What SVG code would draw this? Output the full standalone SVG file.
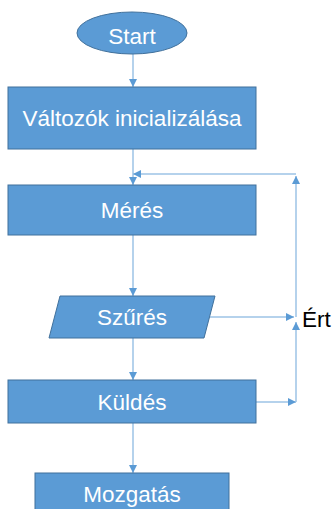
<svg xmlns="http://www.w3.org/2000/svg" width="333" height="509" viewBox="0 0 333 509">
  <defs>
    <style>
      .shape { fill: #5B9BD5; stroke: #41719C; stroke-width: 1; }
      .label { font-family: "Liberation Sans", Arial, sans-serif; font-size: 22.5px; fill: #FFFFFF; text-anchor: middle; }
      .side { font-family: "Liberation Sans", Arial, sans-serif; font-size: 22.5px; fill: #000000; }
      .conn { fill: none; stroke: #9DC3E6; stroke-width: 1.5; }
    </style>
    <marker id="arrow" viewBox="0 0 8 8" refX="8" refY="4" markerWidth="8" markerHeight="8" markerUnits="userSpaceOnUse" orient="auto">
      <path d="M0,0 L8,4 L0,8 Z" fill="#5B9BD5"/>
    </marker>
  </defs>
  <rect width="333" height="509" fill="#FFFFFF"/>
  <g id="connectors">
    <path class="conn" d="M133,54 V87" marker-end="url(#arrow)"/>
    <path class="conn" d="M133,149 V185" marker-end="url(#arrow)"/>
    <path class="conn" d="M133,235 V296" marker-end="url(#arrow)"/>
    <path class="conn" d="M133,338 V380" marker-end="url(#arrow)"/>
    <path class="conn" d="M133,423 V473" marker-end="url(#arrow)"/>
    <path class="conn" d="M210,317 H294" marker-end="url(#arrow)"/>
    <path class="conn" d="M256,402 H296" marker-end="url(#arrow)"/>
    <path class="conn" d="M296,402 V322" marker-end="url(#arrow)"/>
    <path class="conn" d="M296,317 V176" marker-end="url(#arrow)"/>
    <path class="conn" d="M296,174 H133" marker-end="url(#arrow)"/>
  </g>
  <g id="start">
    <ellipse class="shape" cx="132" cy="33" rx="55" ry="21"/>
    <text class="label" x="132" y="44">Start</text>
  </g>
  <g id="init">
    <rect class="shape" x="8" y="87" width="248" height="62"/>
    <text class="label" x="132" y="126">Változók inicializálása</text>
  </g>
  <g id="meres">
    <rect class="shape" x="8" y="185" width="248" height="50"/>
    <text class="label" x="132" y="218">Mérés</text>
  </g>
  <g id="szures">
    <polygon class="shape" points="60,296 215,296 204,338 49,338"/>
    <text class="label" x="132" y="325">Szűrés</text>
  </g>
  <g id="ert">
    <text class="side" x="302" y="327">Ért</text>
  </g>
  <g id="kuldes">
    <rect class="shape" x="8" y="380" width="248" height="43"/>
    <text class="label" x="132" y="410">Küldés</text>
  </g>
  <g id="mozgatas">
    <rect class="shape" x="35" y="473" width="194" height="50"/>
    <text class="label" x="132" y="502">Mozgatás</text>
  </g>
</svg>
